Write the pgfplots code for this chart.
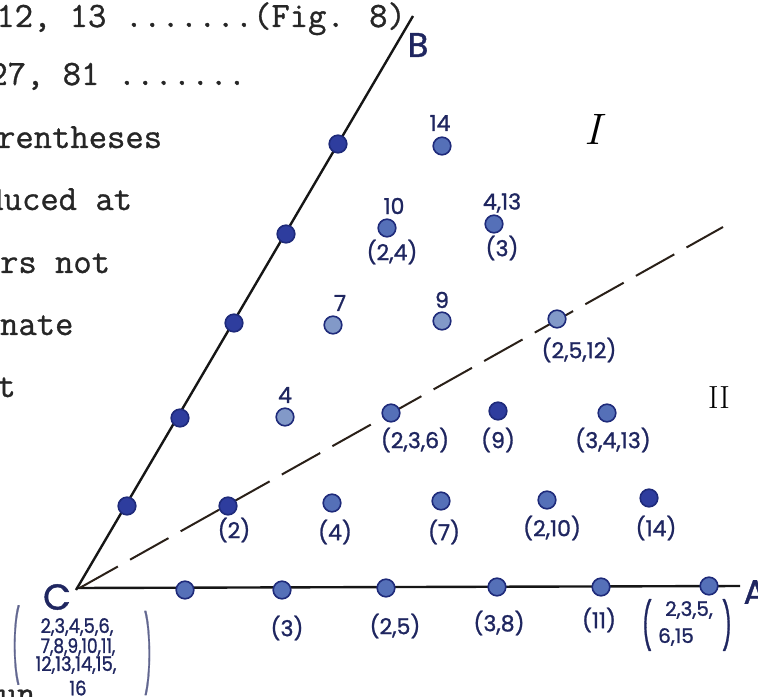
\documentclass[border=0pt]{standalone}
\usepackage{fontspec}
\usepackage{graphicx}
\usepackage{pgfplots}
\pgfplotsset{compat=1.18}
\newfontfamily\hand{Poppins}[FakeBold=1.2]
\newfontfamily\typed{Latin Modern Mono}[FakeBold=0.9]
\definecolor{ink}{HTML}{1F2660}
\definecolor{dotdark}{HTML}{2E3D9E}
\definecolor{dotmid}{HTML}{5570B8}
\definecolor{dotlight}{HTML}{8299C8}
\definecolor{dotedge}{HTML}{1E2A7A}
\definecolor{rule}{HTML}{161616}
\definecolor{dashink}{HTML}{2A2018}
\tikzset{
  tw/.style={anchor=base west, inner sep=0pt, font=\typed\fontsize{17.8}{20}\selectfont, text=black!85},
  lab/.style={inner sep=0pt, text=ink, font=\hand\fontsize{11}{13}\selectfont},
  small/.style={inner sep=0pt, text=ink, font=\hand\fontsize{10}{12}\selectfont},
}

% page is 758 x 696 units, one unit = 0.5pt, y measured upwards
\begin{document}
\begin{tikzpicture}
\path[use as bounding box] (0,0) rectangle (379pt,348pt);
\clip (0,0) rectangle (379pt,348pt);
\begin{axis}[
  at={(0,0)}, anchor=south west,
  x=0.5pt, y=0.5pt,
  xmin=0, xmax=758, ymin=0, ymax=696,
  axis lines=none, clip=false,
]
% typed text of the page, running under the figure
\node[tw] at (axis cs:-4,669) {12, 13 .......(Fig. 8)};
\node[tw] at (axis cs:-11,611) {27, 81 .......};
\node[tw] at (axis cs:-40,548) {parentheses};
\node[tw] at (axis cs:-70,486) {produced at};
\node[tw] at (axis cs:-92,423) {numbers not};
\node[tw] at (axis cs:-92,361) {alternate};
\node[tw] at (axis cs:-58,299) {that};
\node[tw] at (axis cs:-20,-9) {run};

% axes C--A and C--B
\addplot[rule, line width=1.2pt] coordinates {(76,108) (740,110)};
\addplot[rule, line width=1.2pt] coordinates {(76,106) (413,680)};
% dividing line between regions I and II
\addplot[dashink, line width=1pt, dash pattern=on 22pt off 7pt, dash phase=27pt] coordinates {(76,106) (723,469)};

% lattice points
\addplot[only marks, mark=*, mark size=4.4pt, mark options={fill=dotdark, draw=dotedge, line width=0.8pt}]
  coordinates {(127,190) (180,278) (234,373) (286,462) (338,552) (228,190) (498,285) (649,198)};
\addplot[only marks, mark=*, mark size=4.4pt, mark options={fill=dotmid, draw=dotedge, line width=0.8pt}]
  coordinates {(185,106) (282,106) (386,108) (497,109) (601,109) (709,110)
               (332,193) (441,195) (547,196) (391,283) (607,283)
               (387,468) (494,472) (442,550)};
\addplot[only marks, mark=*, mark size=4.4pt, mark options={fill=dotlight, draw=dotedge, line width=0.8pt}]
  coordinates {(285,279) (333,371) (442,375) (557,377)};

% vertex letters and regions
\node[text=ink, font=\hand\fontsize{18}{20}\selectfont, inner sep=0pt] at (axis cs:57,99) {C};
\node[text=ink, font=\hand\fontsize{17}{20}\selectfont, inner sep=0pt] at (axis cs:418,651) {B};
\node[text=ink, font=\hand\fontsize{17}{20}\selectfont, inner sep=0pt] at (axis cs:755,104) {A};
\node[font=\rmfamily\fontsize{22}{24}\selectfont, inner sep=0pt] at (axis cs:595,567) {\textit{I}};
\node[font=\rmfamily\fontsize{16}{18}\selectfont, inner sep=0pt] at (axis cs:719,298) {II};

% labels of the points
\node[lab] at (axis cs:440,573) {14};
\node[lab] at (axis cs:394,490) {10};
\node[lab] at (axis cs:392,444) {(2,4)};
\node[lab] at (axis cs:502,493) {4,13};
\node[lab] at (axis cs:502,448) {(3)};
\node[lab] at (axis cs:340,393) {7};
\node[lab] at (axis cs:442,396) {9};
\node[lab] at (axis cs:579,346) {(2,5,12)};
\node[lab] at (axis cs:285,301) {4};
\node[lab] at (axis cs:415,256) {(2,3,6)};
\node[lab] at (axis cs:498,256) {(9)};
\node[lab] at (axis cs:613,256) {(3,4,13)};
\node[lab] at (axis cs:234,166) {(2)};
\node[lab] at (axis cs:335,164) {(4)};
\node[lab] at (axis cs:444,164) {(7)};
\node[lab] at (axis cs:552,168) {(2,10)};
\node[lab] at (axis cs:656,168) {(14)};
\node[lab] at (axis cs:287,68) {(3)};
\node[lab] at (axis cs:395,70) {(2,5)};
\node[lab] at (axis cs:499,73) {(3,8)};
\node[lab] at (axis cs:599,76) {(11)};
\node[small] at (axis cs:689,86) {2,3,5,};
\node[small] at (axis cs:676,59) {6,15};
\node[lab] at (axis cs:647,71) {\scalebox{1}[2.1]{(}};
\node[lab] at (axis cs:727,71) {\scalebox{1}[2.1]{)}};

% numbers collected at C
\node[small] at (axis cs:77,69) {\scalebox{0.9}[1]{2,3,4,5,6,}};
\node[small] at (axis cs:78,49) {\scalebox{0.85}[1]{7,8,9,10,11,}};
\node[small] at (axis cs:76,31) {\scalebox{0.9}[1]{12,13,14,15,}};
\node[small] at (axis cs:78,8) {\scalebox{0.9}[1]{16}};
\node[lab, text=ink!70] at (axis cs:16,51) {\scalebox{0.8}[3.2]{(}};
\node[lab, text=ink!70] at (axis cs:148,43) {\scalebox{0.8}[3.4]{)}};
\end{axis}
\end{tikzpicture}
\end{document}
